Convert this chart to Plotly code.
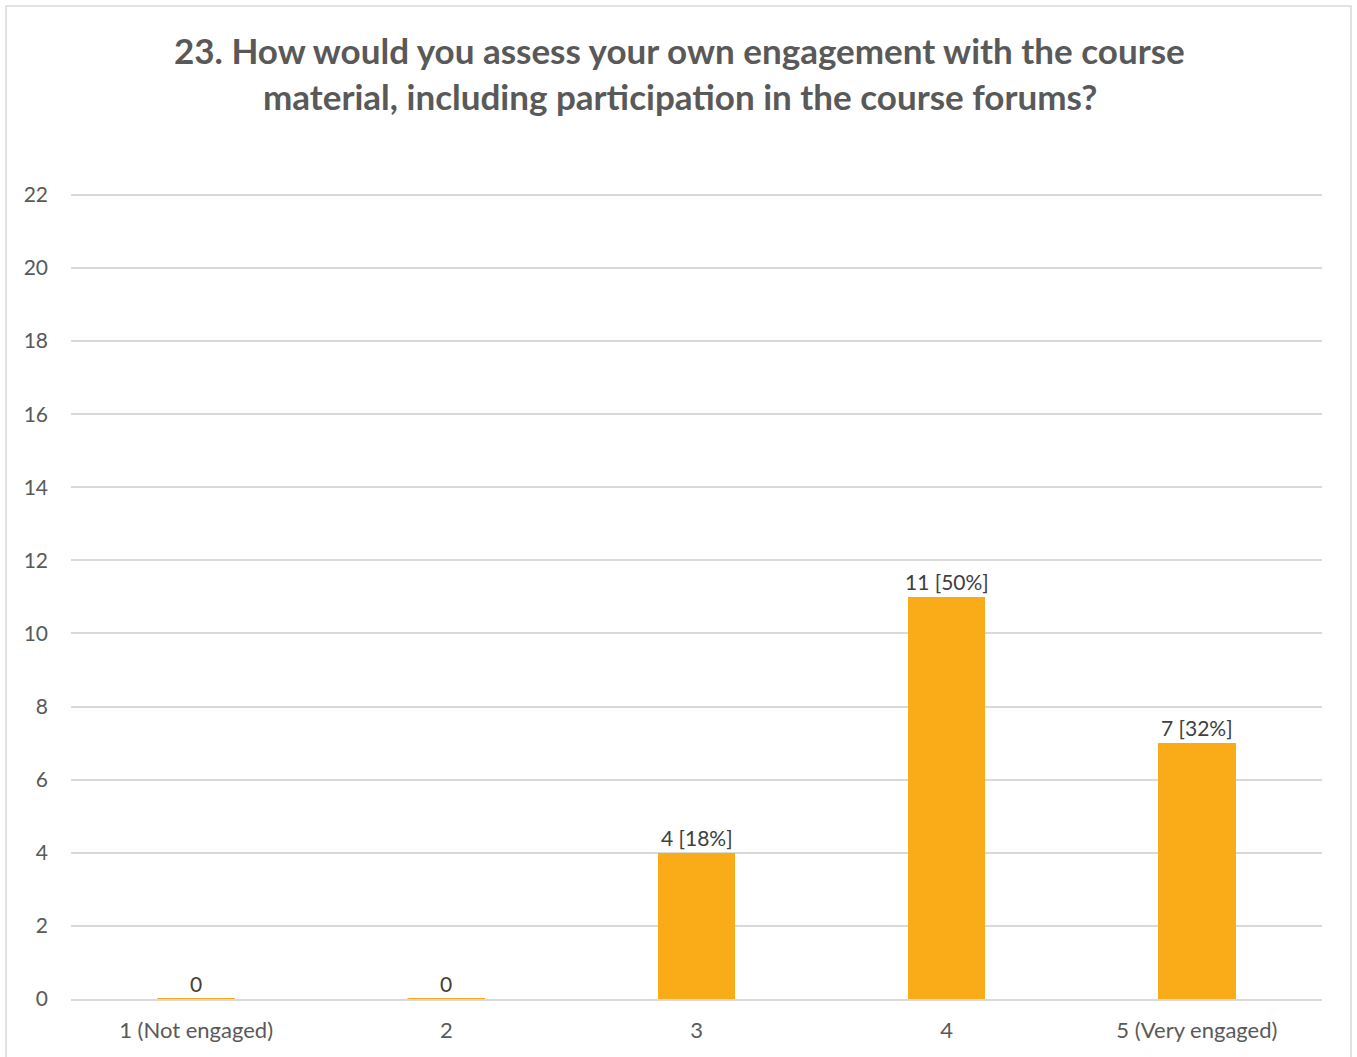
import plotly.graph_objects as go

# Survey responses for question 23
categories = ["1 (Not engaged)", "2", "3", "4", "5 (Very engaged)"]
counts = [0, 0, 4, 11, 7]
title_lines = [
    "23. How would you assess your own engagement with the course",
    "material, including participation in the course forums?",
]
y_ticks = list(range(0, 23, 2))

BAR_COLOR = "#FAAC18"
TEXT_COLOR = "#595959"
LABEL_COLOR = "#404040"
GRID_COLOR = "#D9D9D9"
FONT = "Lato"
BAR_WIDTH = 0.31
Y_MAX = 22.05  # a little headroom so the top gridline is kept

W, H = 1357, 1057
L, R, T, B = 71, 35, 193, 58
plot_w, plot_h = W - L - R, H - T - B


def px_to_paper_x(px):
    return (px - L) / plot_w


def px_to_paper_y(py):
    return (H - B - py) / plot_h


total = sum(counts)
labels = [
    f"{c} [{round(100 * c / total)}%]" if c else "0" for c in counts
]

fig = go.Figure(
    go.Bar(
        x=categories,
        y=counts,
        width=BAR_WIDTH,
        marker=dict(color=BAR_COLOR, line=dict(width=0)),
        hoverinfo="x+y",
    )
)

# Value labels above each bar (positioned by category index)
for i, (c, lab) in enumerate(zip(counts, labels)):
    fig.add_annotation(
        x=i, y=c, text=lab, showarrow=False, yanchor="bottom", yshift=1,
        font=dict(family=FONT, size=21, color=LABEL_COLOR),
    )

# Zero-count categories are shown as a thin bar outline on the baseline
for i, c in enumerate(counts):
    if c == 0:
        fig.add_shape(
            type="line", xref="x", yref="y",
            x0=i - BAR_WIDTH / 2, x1=i + BAR_WIDTH / 2, y0=0, y1=0,
            line=dict(color=BAR_COLOR, width=2), layer="above",
        )

# Two-line chart title
for j, line in enumerate(title_lines):
    fig.add_annotation(
        xref="paper", yref="paper",
        x=px_to_paper_x(679.5), y=px_to_paper_y(50 + 46 * j),
        xanchor="center", yanchor="middle", showarrow=False, text=f"<b>{line}</b>",
        font=dict(family=FONT, size=35, color=TEXT_COLOR),
    )

# Chart frame
fig.add_shape(
    type="rect", xref="paper", yref="paper",
    x0=px_to_paper_x(6), x1=px_to_paper_x(1351),
    y0=px_to_paper_y(6), y1=px_to_paper_y(1100),
    line=dict(color=GRID_COLOR, width=1.5), fillcolor="rgba(0,0,0,0)",
)

fig.update_layout(
    width=W, height=H,
    margin=dict(l=L, r=R, t=T, b=B, pad=0),
    paper_bgcolor="white", plot_bgcolor="white",
    showlegend=False,
    bargap=0,
    font=dict(family=FONT, color=TEXT_COLOR),
)
fig.update_xaxes(
    range=[-0.5, len(categories) - 0.5],
    showgrid=False, showline=True, linecolor=GRID_COLOR, linewidth=1.5,
    ticks="", tickfont=dict(family=FONT, size=22, color=TEXT_COLOR),
    ticklabelstandoff=11,
)
fig.update_yaxes(
    range=[0, Y_MAX], tickvals=y_ticks, showgrid=True, gridcolor=GRID_COLOR,
    gridwidth=1.5, zeroline=False, showline=False, ticks="",
    tickfont=dict(family=FONT, size=21, color=TEXT_COLOR),
    ticklabelstandoff=22,
)

fig.write_html("out.html")
